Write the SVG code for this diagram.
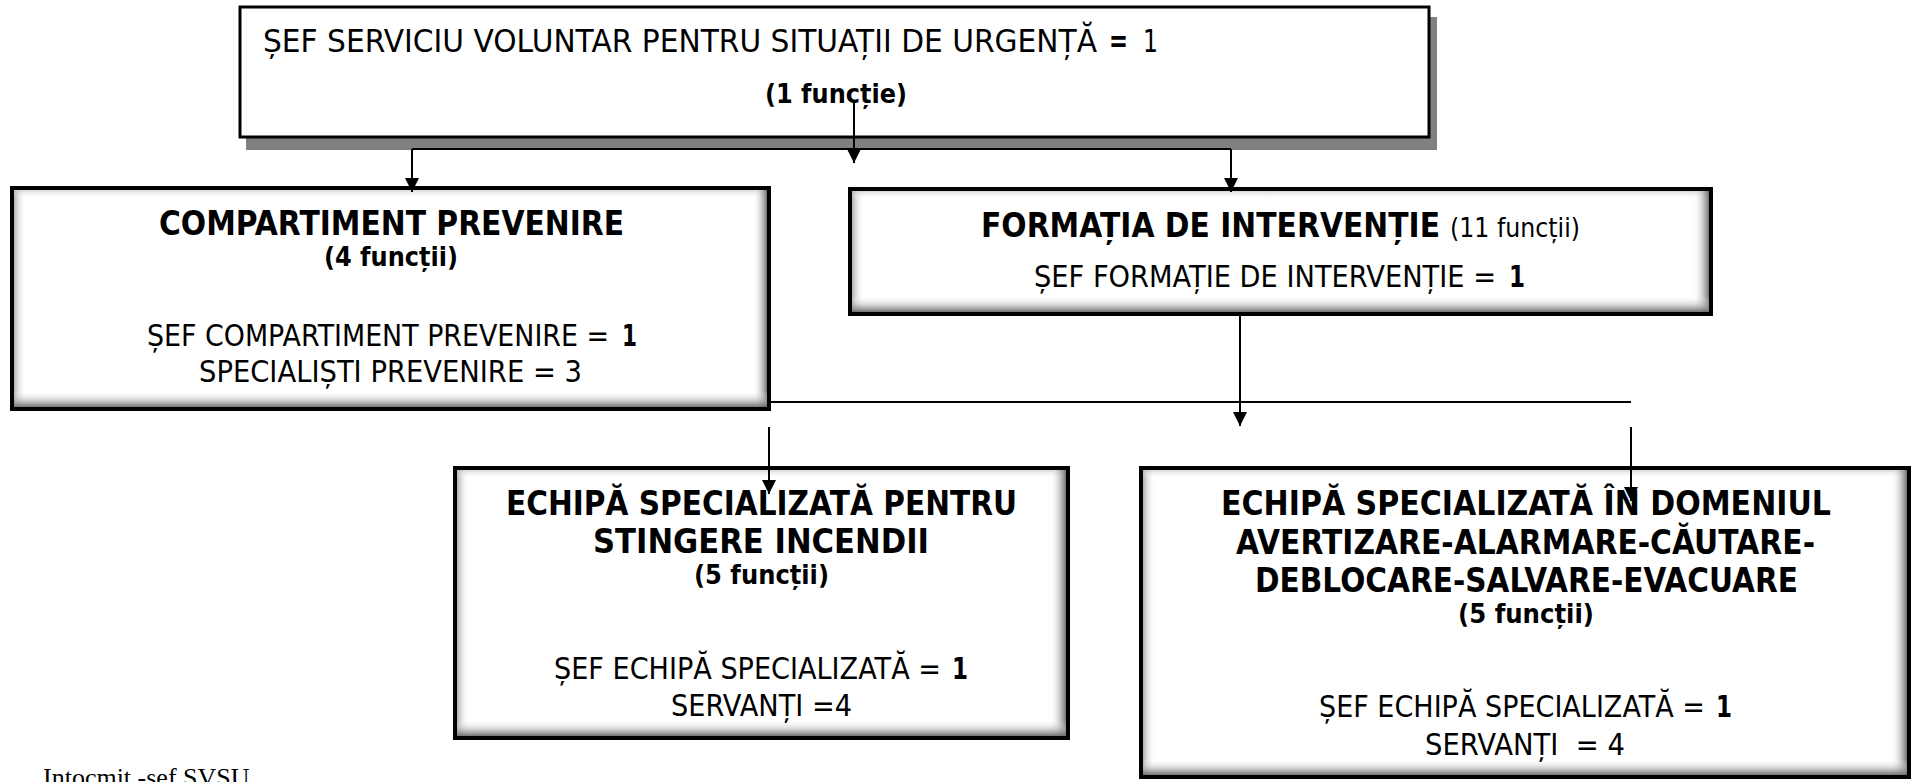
<svg xmlns="http://www.w3.org/2000/svg" width="1916" height="782" viewBox="0 0 1916 782">
<defs>
<style>
.box{fill:#fff;stroke:#000;stroke-width:4}
.t{font-family:"DejaVu Sans","Liberation Sans",sans-serif;fill:#000}
.b{font-weight:bold}
.n{font-weight:normal}
.ln{fill:none;stroke:#000;stroke-width:2}
</style>
<linearGradient id="gR" x1="0" y1="0" x2="1" y2="0"><stop offset="0" stop-color="#fff" stop-opacity="0"/><stop offset="1" stop-color="#6a6a6a" stop-opacity="0.95"/></linearGradient>
<linearGradient id="gL" x1="1" y1="0" x2="0" y2="0"><stop offset="0" stop-color="#fff" stop-opacity="0"/><stop offset="1" stop-color="#9a9a9a" stop-opacity="0.8"/></linearGradient>
<linearGradient id="gB" x1="0" y1="0" x2="0" y2="1"><stop offset="0" stop-color="#fff" stop-opacity="0"/><stop offset="1" stop-color="#6a6a6a" stop-opacity="0.95"/></linearGradient>
<linearGradient id="gT" x1="0" y1="1" x2="0" y2="0"><stop offset="0" stop-color="#fff" stop-opacity="0"/><stop offset="1" stop-color="#bbb" stop-opacity="0.6"/></linearGradient>
<marker id="ah" viewBox="0 0 10 10" refX="10" refY="5" markerWidth="7" markerHeight="7" markerUnits="strokeWidth" orient="auto"><path d="M0,0 L10,5 L0,10 z" fill="#000"/></marker>
</defs>

<g id="node-sef-svsu">
<rect x="246" y="17" width="1191" height="133" fill="#808080"/>
<rect x="240" y="7" width="1189" height="130" fill="#fff" stroke="#000" stroke-width="3"/>
<text class="t" x="263" y="52" font-size="32" textLength="834" lengthAdjust="spacingAndGlyphs">ȘEF SERVICIU VOLUNTAR PENTRU SITUAȚII DE URGENȚĂ</text>
<text class="t b" x="1109" y="52" font-size="32" textLength="19" lengthAdjust="spacingAndGlyphs">=</text>
<text class="t" x="1143" y="52" font-size="32" textLength="15" lengthAdjust="spacingAndGlyphs">1</text>
<text class="t b" x="765" y="103" font-size="26" textLength="142" lengthAdjust="spacingAndGlyphs">(1 funcție)</text>
</g>

<g id="node-compartiment">
<rect class="box" x="12" y="188" width="757" height="221"/>
<rect x="14" y="190" width="12" height="217" fill="url(#gL)"/>
<rect x="14" y="190" width="753" height="8" fill="url(#gT)"/>
<rect x="753" y="190" width="14" height="217" fill="url(#gR)"/>
<rect x="14" y="391" width="753" height="16" fill="url(#gB)"/>
<text class="t b" x="159" y="235" font-size="33" textLength="465" lengthAdjust="spacingAndGlyphs">COMPARTIMENT PREVENIRE</text>
<text class="t b" x="324" y="266" font-size="26" textLength="134" lengthAdjust="spacingAndGlyphs">(4 funcții)</text>
<text class="t" x="147" y="346" font-size="30" textLength="462" lengthAdjust="spacingAndGlyphs">ȘEF COMPARTIMENT PREVENIRE =</text>
<text class="t b" x="622" y="346" font-size="30" textLength="15" lengthAdjust="spacingAndGlyphs">1</text>
<text class="t" x="199" y="382" font-size="30" textLength="383" lengthAdjust="spacingAndGlyphs">SPECIALIȘTI PREVENIRE = 3</text>
</g>

<g id="node-formatia">
<rect class="box" x="850" y="189" width="861" height="125"/>
<rect x="852" y="191" width="12" height="121" fill="url(#gL)"/>
<rect x="852" y="191" width="857" height="8" fill="url(#gT)"/>
<rect x="1693" y="191" width="16" height="121" fill="url(#gR)"/>
<rect x="852" y="296" width="857" height="16" fill="url(#gB)"/>
<text class="t b" x="981" y="237" font-size="33" textLength="459" lengthAdjust="spacingAndGlyphs">FORMAȚIA DE INTERVENȚIE</text>
<text class="t n" x="1450" y="237" font-size="26" textLength="130" lengthAdjust="spacingAndGlyphs">(11 funcții)</text>
<text class="t" x="1034" y="287" font-size="30" textLength="462" lengthAdjust="spacingAndGlyphs">ȘEF FORMAȚIE DE INTERVENȚIE =</text>
<text class="t b" x="1509" y="287" font-size="30" textLength="16" lengthAdjust="spacingAndGlyphs">1</text>
</g>

<g id="node-stingere">
<rect class="box" x="455" y="468" width="613" height="270"/>
<rect x="457" y="470" width="12" height="266" fill="url(#gL)"/>
<rect x="457" y="470" width="609" height="8" fill="url(#gT)"/>
<rect x="1050" y="470" width="16" height="266" fill="url(#gR)"/>
<rect x="457" y="720" width="609" height="16" fill="url(#gB)"/>
<text class="t b" x="506" y="515" font-size="33" textLength="511" lengthAdjust="spacingAndGlyphs">ECHIPĂ SPECIALIZATĂ PENTRU</text>
<text class="t b" x="593" y="553" font-size="33" textLength="336" lengthAdjust="spacingAndGlyphs">STINGERE INCENDII</text>
<text class="t b" x="694" y="584" font-size="26" textLength="135" lengthAdjust="spacingAndGlyphs">(5 funcții)</text>
<text class="t" x="554" y="679" font-size="30" textLength="387" lengthAdjust="spacingAndGlyphs">ȘEF ECHIPĂ SPECIALIZATĂ =</text>
<text class="t b" x="952" y="679" font-size="30" textLength="16" lengthAdjust="spacingAndGlyphs">1</text>
<text class="t" x="671" y="716" font-size="30" textLength="181" lengthAdjust="spacingAndGlyphs">SERVANȚI =4</text>
</g>

<g id="node-avertizare">
<rect class="box" x="1141" y="468" width="768" height="309"/>
<rect x="1143" y="470" width="12" height="305" fill="url(#gL)"/>
<rect x="1143" y="470" width="764" height="8" fill="url(#gT)"/>
<rect x="1891" y="470" width="16" height="305" fill="url(#gR)"/>
<rect x="1143" y="759" width="764" height="16" fill="url(#gB)"/>
<text class="t b" x="1221" y="515" font-size="33" textLength="610" lengthAdjust="spacingAndGlyphs">ECHIPĂ SPECIALIZATĂ ÎN DOMENIUL</text>
<text class="t b" x="1236" y="554" font-size="33" textLength="579" lengthAdjust="spacingAndGlyphs">AVERTIZARE-ALARMARE-CĂUTARE-</text>
<text class="t b" x="1255" y="592" font-size="33" textLength="543" lengthAdjust="spacingAndGlyphs">DEBLOCARE-SALVARE-EVACUARE</text>
<text class="t b" x="1458" y="623" font-size="26" textLength="136" lengthAdjust="spacingAndGlyphs">(5 funcții)</text>
<text class="t" x="1319" y="717" font-size="30" textLength="386" lengthAdjust="spacingAndGlyphs">ȘEF ECHIPĂ SPECIALIZATĂ =</text>
<text class="t b" x="1716" y="717" font-size="30" textLength="16" lengthAdjust="spacingAndGlyphs">1</text>
<text class="t" x="1425" y="755" font-size="30" textLength="200" lengthAdjust="spacingAndGlyphs">SERVANȚI&#160; = 4</text>
</g>

<g id="connectors">
<path class="ln" d="M854,100 V163" marker-end="url(#ah)"/>
<path class="ln" d="M412,149 H1231"/>
<path class="ln" d="M412,149 V192" marker-end="url(#ah)"/>
<path class="ln" d="M1231,149 V192" marker-end="url(#ah)"/>
<path class="ln" d="M1240,314 V426" marker-end="url(#ah)"/>
<path class="ln" d="M769,402 H1631"/>
<path class="ln" d="M769,427 V494" marker-end="url(#ah)"/>
<path class="ln" d="M1631,427 V501" marker-end="url(#ah)"/>
</g>

<text x="43" y="786" font-family="'Liberation Serif',serif" font-size="26" fill="#000">Intocmit -sef SVSU</text>
</svg>
